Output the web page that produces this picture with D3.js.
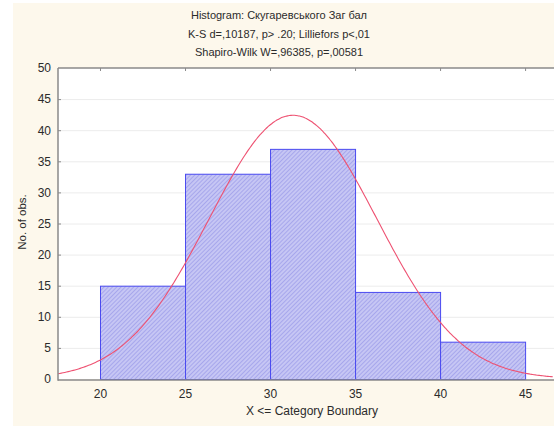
<!DOCTYPE html>
<html>
<head>
<meta charset="utf-8">
<script src="https://cdn.jsdelivr.net/npm/d3@7"></script>
<style>
  body { margin: 0; background: #ffffff; }
  svg { display: block; font-family: "Liberation Sans", Arial, sans-serif; }
</style>
</head>
<body>
<div class="chart__container"></div>
<script>
/*---------------------------Init---------------------------*/

const CHART__WIDTH = 554;
const CHART__HEIGHT = 426;
const MARGIN = { top: 68, right: 0, bottom: 47, left: 58 };

// data
const binStarts = [20, 25, 30, 35, 40];
const binEnds = [25, 30, 35, 40, 45];
const binCounts = [15, 33, 37, 14, 6];
const xTicks = [20, 25, 30, 35, 40, 45];
const yTicks = [0, 5, 10, 15, 20, 25, 30, 35, 40, 45, 50];
const titleLines = [
    "Histogram: Скугаревського Заг бал",
    "K-S d=,10187, p> .20; Lilliefors p<,01",
    "Shapiro-Wilk W=,96385, p=,00581"
];
// fitted normal curve parameters (estimated from the drawn curve)
const fitMean = 31.35;
const fitSd = 4.94;
const fitN = 105;
const fitBinWidth = 5;

const COLOR = {
    page: "#fdf8ec",
    axis: "#8a8a8a",
    grid: "#ececec",
    barFill: "#c6c6f4",
    barHatch: "#9292e8",
    barStroke: "#4a4af0",
    curve: "#ee5272",
    text: "#2b2b2b"
};

const svg = d3.select(".chart__container").append("svg")
    .attr("width", CHART__WIDTH)
    .attr("height", CHART__HEIGHT);

// page background (white sliver at top/left as in the screenshot)
svg.append("rect")
    .attr("x", 13).attr("y", 3)
    .attr("width", CHART__WIDTH - 13).attr("height", CHART__HEIGHT - 3)
    .attr("fill", COLOR.page);

//hatch pattern

const defs = svg.append("defs");
const pattern = defs.append("pattern")
    .attr("id", "hatch")
    .attr("patternUnits", "userSpaceOnUse")
    .attr("width", 3).attr("height", 3)
    .attr("patternTransform", "rotate(45)");
pattern.append("rect").attr("width", 3).attr("height", 3).attr("fill", COLOR.barFill);
pattern.append("line")
    .attr("x1", 0).attr("y1", 0).attr("x2", 0).attr("y2", 3)
    .attr("stroke", COLOR.barHatch).attr("stroke-width", 1.2);

//scales

const xScale = d3.scaleLinear()
    .domain([17.53, 46.7])
    .range([MARGIN.left, CHART__WIDTH - MARGIN.right]);
const yScale = d3.scaleLinear()
    .domain([0, 50])
    .range([CHART__HEIGHT - MARGIN.bottom, MARGIN.top]);

//plot area

svg.append("rect")
    .attr("x", MARGIN.left).attr("y", MARGIN.top)
    .attr("width", CHART__WIDTH - MARGIN.left - MARGIN.right)
    .attr("height", yScale(0) - MARGIN.top)
    .attr("fill", "#ffffff");

//grid

svg.append("g")
    .selectAll("line")
    .data(yTicks.filter(t => t > 0 && t < 50))
    .enter()
    .append("line")
    .attr("x1", MARGIN.left).attr("x2", CHART__WIDTH)
    .attr("y1", d => yScale(d) + 0.5).attr("y2", d => yScale(d) + 0.5)
    .attr("stroke", COLOR.grid);

//bars

const bins = binStarts.map((s, i) => ({ x0: s, x1: binEnds[i], count: binCounts[i] }));

svg.append("g")
    .selectAll("rect")
    .data(bins)
    .enter()
    .append("rect")
    .attr("x", d => xScale(d.x0) + 0.5)
    .attr("y", d => yScale(d.count) + 0.5)
    .attr("width", d => xScale(d.x1) - xScale(d.x0))
    .attr("height", d => yScale(0) - yScale(d.count))
    .attr("fill", "url(#hatch)")
    .attr("stroke", COLOR.barStroke)
    .attr("stroke-width", 1);

//normal curve

const density = x => fitN * fitBinWidth / (fitSd * Math.sqrt(2 * Math.PI)) *
    Math.exp(-0.5 * Math.pow((x - fitMean) / fitSd, 2));
const curveX = d3.range(xScale.domain()[0], xScale.domain()[1] + 0.01, 0.1);

svg.append("path")
    .datum(curveX)
    .attr("fill", "none")
    .attr("stroke", COLOR.curve)
    .attr("stroke-width", 1.1)
    .attr("d", d3.line().x(d => xScale(d)).y(d => yScale(density(d))).curve(d3.curveMonotoneX));

//axes

const xAxis = d3.axisBottom(xScale).tickValues(xTicks).tickSize(0).tickPadding(10);
const gx = svg.append("g")
    .attr("transform", `translate(0,${yScale(0)})`)
    .call(xAxis);
gx.select(".domain").remove();
gx.selectAll("text").attr("fill", COLOR.text).style("font-size", "12px");

const yAxis = d3.axisLeft(yScale).tickValues(yTicks).tickSize(0).tickPadding(7);
const gy = svg.append("g")
    .attr("transform", `translate(${MARGIN.left},0)`)
    .call(yAxis);
gy.select(".domain").remove();
gy.selectAll("text").attr("fill", COLOR.text).style("font-size", "12px");

// inner ticks
svg.append("g").selectAll("line")
    .data(yTicks.filter(t => t > 0 && t < 50))
    .enter().append("line")
    .attr("x1", MARGIN.left).attr("x2", MARGIN.left + 3)
    .attr("y1", d => yScale(d) + 0.5).attr("y2", d => yScale(d) + 0.5)
    .attr("stroke", COLOR.axis);
svg.append("g").selectAll("line")
    .data(xTicks)
    .enter().append("line")
    .attr("x1", d => xScale(d) + 0.5).attr("x2", d => xScale(d) + 0.5)
    .attr("y1", MARGIN.top).attr("y2", MARGIN.top + 3)
    .attr("stroke", COLOR.axis);

// frame lines
svg.append("line")
    .attr("x1", MARGIN.left).attr("x2", CHART__WIDTH)
    .attr("y1", MARGIN.top).attr("y2", MARGIN.top)
    .attr("stroke", COLOR.axis).attr("stroke-width", 1.5);
svg.append("line")
    .attr("x1", MARGIN.left).attr("x2", CHART__WIDTH)
    .attr("y1", yScale(0) + 1).attr("y2", yScale(0) + 1)
    .attr("stroke", COLOR.axis).attr("stroke-width", 1.5);
svg.append("line")
    .attr("x1", MARGIN.left).attr("x2", MARGIN.left)
    .attr("y1", MARGIN.top).attr("y2", yScale(0) + 1.75)
    .attr("stroke", COLOR.axis).attr("stroke-width", 1.5);

//title

svg.append("g")
    .selectAll("text")
    .data(titleLines)
    .enter()
    .append("text")
    .attr("x", 279)
    .attr("y", (d, i) => 19 + i * 18.5)
    .attr("text-anchor", "middle")
    .attr("fill", COLOR.text)
    .style("font-size", "11px")
    .text(d => d);

//axis labels

svg.append("text")
    .attr("x", 312).attr("y", 415)
    .attr("text-anchor", "middle")
    .attr("fill", COLOR.text)
    .style("font-size", "12px")
    .text("X <= Category Boundary");

svg.append("text")
    .attr("transform", "translate(26,222) rotate(-90)")
    .attr("text-anchor", "middle")
    .attr("fill", COLOR.text)
    .style("font-size", "11.5px")
    .text("No. of obs.");
</script>
</body>
</html>
